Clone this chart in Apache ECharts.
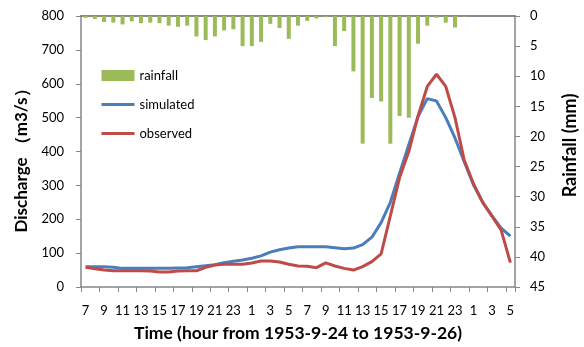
<!DOCTYPE html>
<html>
<head>
<meta charset="utf-8">
<script src="https://cdn.jsdelivr.net/npm/echarts@6/dist/echarts.min.js"></script>
<style>
html,body{margin:0;padding:0;background:#fff;}
#c{width:584px;height:347px;}
</style>
</head>
<body>
<div id="c"></div>
<script>
var hours = [7,8,9,10,11,12,13,14,15,16,17,18,19,20,21,22,23,0,1,2,3,4,5,6,7,8,9,10,11,12,13,14,15,16,17,18,19,20,21,22,23,0,1,2,3,4,5];
var categories = hours.map(function(h){return String(h);});
var rainfall = [0.3,0.5,1.0,1.1,1.4,0.9,1.2,1.1,1.2,1.6,1.8,1.6,3.4,4.0,3.4,2.4,2.2,5.0,5.0,4.3,1.3,2.0,3.8,1.6,0.8,0.4,0.2,5.0,2.5,9.2,21.2,13.6,14.2,21.2,16.6,16.9,4.6,1.6,0.3,1.1,1.9,0.1,0,0,0,0,0];
var simulated = [60,60,60,58,55,55,55,55,55,55,56,57,60,63,66,72,76,80,85,92,103,110,115,119,119,119,119,116,113,115,125,147,190,250,336,420,503,556,549,500,440,370,302,250,210,174,150];
var observed = [58,54,50,48,48,48,48,47,44,44,47,48,48,58,65,67,67,67,71,77,77,74,67,62,61,57,71,62,55,50,60,75,98,210,323,400,505,592,628,592,500,375,305,250,210,168,72];

var FONT = 'Lato';
var axisGrey = '#868686';
var chart = echarts.init(document.getElementById('c'));
chart.setOption({
  animation: false,
  backgroundColor: '#fff',
  textStyle: {fontFamily: FONT},
  grid: {left: 81, right: 69, top: 16, bottom: 60, containLabel: false, outerBoundsMode: 'none'},
  legend: {
    orient: 'vertical', left: 100, top: 69, itemGap: 16, padding: 0,
    itemWidth: 33, itemHeight: 11,
    textStyle: {fontFamily: FONT, fontSize: 13, color: '#000'},
    data: [
      {name: 'rainfall', icon: 'rect'},
      {name: 'simulated', itemStyle: {opacity: 0}, lineStyle: {width: 3}},
      {name: 'observed', itemStyle: {opacity: 0}, lineStyle: {width: 3}}
    ]
  },
  xAxis: [{
    type: 'category', data: categories, boundaryGap: true,
    name: 'Time (hour from 1953-9-24 to 1953-9-26)', nameLocation: 'middle', nameGap: 37,
    nameTextStyle: {fontFamily: FONT, fontWeight: 'bold', fontSize: 17.5, color: '#000'},
    axisLine: {lineStyle: {color: axisGrey, width: 1.5}},
    axisTick: {show: true, interval: 1, length: 5, inside: false, lineStyle: {color: axisGrey}},
    axisLabel: {interval: 1, margin: 17, fontSize: 13, color: '#000', fontFamily: FONT}
  }, {
    type: 'category', data: categories, position: 'top', boundaryGap: true,
    axisLine: {show: true, lineStyle: {color: '#666', width: 1.5}},
    axisTick: {show: false}, axisLabel: {show: false}
  }],
  yAxis: [{
    type: 'value', min: 0, max: 800, interval: 100, position: 'left',
    name: 'Discharge （m3/s）', nameLocation: 'middle', nameGap: 48, nameRotate: 90,
    nameTextStyle: {fontFamily: FONT, fontWeight: 'bold', fontSize: 17, color: '#000', padding: [0,10,0,0]},
    axisLine: {show: true, lineStyle: {color: axisGrey, width: 1.5}},
    axisTick: {show: true, length: 5, lineStyle: {color: axisGrey}},
    splitLine: {show: false},
    axisLabel: {margin: 17, fontSize: 13, color: '#000', fontFamily: FONT}
  }, {
    type: 'value', min: 0, max: 45, interval: 5, inverse: true, position: 'right',
    name: 'Rainfall (mm)', nameLocation: 'middle', nameGap: 46, nameRotate: 90,
    nameTextStyle: {fontFamily: FONT, fontWeight: 'bold', fontSize: 18, color: '#000', padding: [0,0,0,12]},
    axisLine: {show: true, lineStyle: {color: axisGrey, width: 1.5}},
    axisTick: {show: true, length: 5, lineStyle: {color: axisGrey}},
    splitLine: {show: false},
    axisLabel: {margin: 15, fontSize: 13, color: '#000', fontFamily: FONT}
  }],
  series: [{
    name: 'rainfall', type: 'bar', xAxisIndex: 0, yAxisIndex: 1,
    data: rainfall, barWidth: 4,
    itemStyle: {color: '#9BBB59'}
  }, {
    name: 'simulated', type: 'line', xAxisIndex: 0, yAxisIndex: 0,
    data: simulated, symbol: 'none', showSymbol: false,
    lineStyle: {color: '#4A7EBB', width: 3}, itemStyle: {color: '#4A7EBB'}
  }, {
    name: 'observed', type: 'line', xAxisIndex: 0, yAxisIndex: 0,
    data: observed, symbol: 'none', showSymbol: false,
    lineStyle: {color: '#BE4B48', width: 3}, itemStyle: {color: '#BE4B48'}
  }]
});
</script>
</body>
</html>
